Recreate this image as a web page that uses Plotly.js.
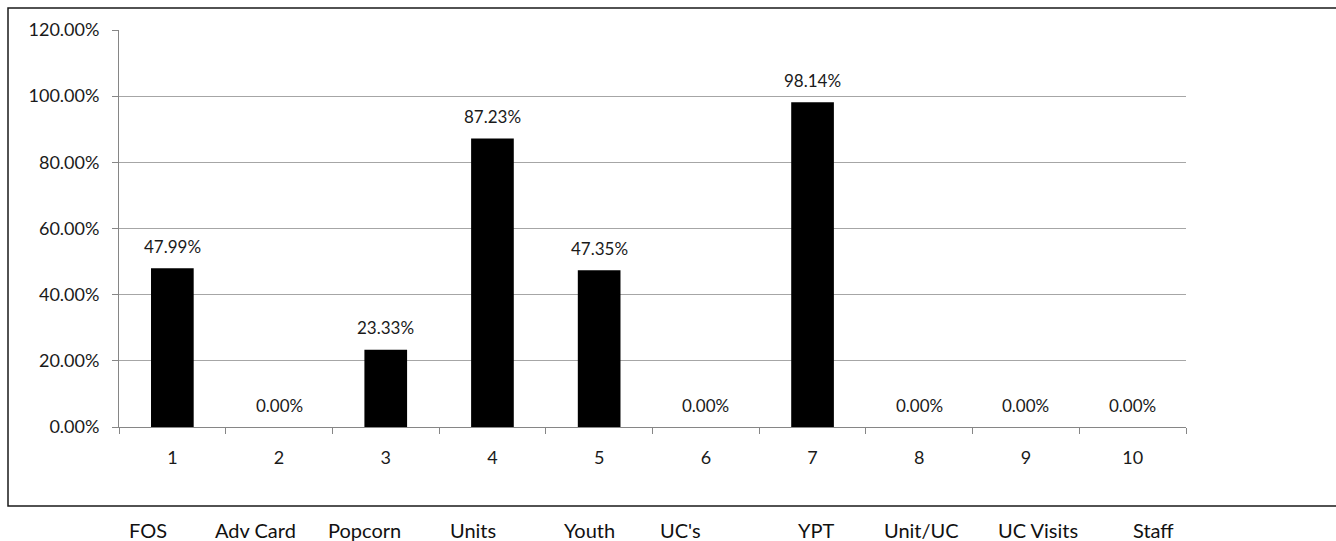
<!DOCTYPE html>
<html>
<head>
<meta charset="utf-8">
<script src="https://cdn.plot.ly/plotly-3.0.1.min.js"></script>
<style>html,body{margin:0;padding:0;background:#fff;}#chart{width:1336px;height:541px;}</style>
</head>
<body>
<div id="chart"></div>
<script>
const categories = ["1","2","3","4","5","6","7","8","9","10"];
const values = [0.4799, 0, 0.2333, 0.8723, 0.4735, 0, 0.9814, 0, 0, 0];
const bottomLabels = ["FOS","Adv Card","Popcorn","Units","Youth","UC's","YPT","Unit/UC","UC Visits","Staff"];
const yTickVals = [0, 0.2, 0.4, 0.6, 0.8, 1.0, 1.2];

// layout geometry (pixels)
const W = 1336, H = 541;
const L = 119, R = 1186, T = 30, B = 427;
const pw = R - L, ph = B - T;
const px = x => (x - L) / pw;
const py = y => (B - y) / ph;
const labelCenters = [148, 255, 364, 473, 589, 680, 816, 921, 1038, 1153];

const FONT = "Lato, 'Open Sans', sans-serif";
const TXT = "#1a1a1a";

const trace = {
  type: "bar",
  x: categories,
  y: values,
  marker: {color: "#000000", line: {width: 0}},
  width: 0.4,
  hoverinfo: "skip"
};

// category axes place annotations by category index
const valueLabels = values.map((v, i) => ({
  text: (v * 100).toFixed(2) + "%",
  xref: "x", yref: "y", x: i, y: v,
  xanchor: "center", yanchor: "middle", yshift: 22,
  showarrow: false,
  font: {family: FONT, size: 17, color: TXT}
}));

const bottomAnn = bottomLabels.map((t, i) => ({
  text: t, xref: "paper", yref: "paper",
  x: px(labelCenters[i]), y: py(530),
  xanchor: "center", yanchor: "middle",
  showarrow: false,
  font: {family: FONT, size: 20, color: "#111111"}
}));

const layout = {
  width: W, height: H,
  margin: {l: L, r: W - R, t: T, b: H - B, pad: 0},
  paper_bgcolor: "#ffffff", plot_bgcolor: "#ffffff",
  showlegend: false,
  xaxis: {
    type: "category",
    range: [-0.5, categories.length - 0.5],
    tickson: "boundaries",
    ticks: "outside", ticklen: 6, tickcolor: "#868686", tickwidth: 1,
    showline: true, linecolor: "#868686", linewidth: 1,
    showgrid: false, zeroline: false,
    tickfont: {family: FONT, size: 18, color: TXT},
    ticklabelstandoff: 14,
    fixedrange: true
  },
  yaxis: {
    range: [0, 1.2],
    tickvals: yTickVals,
    tickformat: ".2%",
    ticks: "outside", ticklen: 6, tickcolor: "#868686", tickwidth: 1,
    showline: true, linecolor: "#868686", linewidth: 1,
    showgrid: true, gridcolor: "#a6a6a6", gridwidth: 1,
    zeroline: false,
    tickfont: {family: FONT, size: 18, color: TXT},
    ticklabelstandoff: 9,
    fixedrange: true
  },
  shapes: [{
    type: "rect", xref: "paper", yref: "paper",
    x0: px(8), x1: px(1345), y0: py(506), y1: py(8),
    line: {color: "#1a1a1a", width: 1.5}, fillcolor: "rgba(0,0,0,0)", layer: "below"
  }],
  annotations: valueLabels.concat(bottomAnn)
};

Plotly.newPlot("chart", [trace], layout, {displayModeBar: false, staticPlot: true});
</script>
</body>
</html>
